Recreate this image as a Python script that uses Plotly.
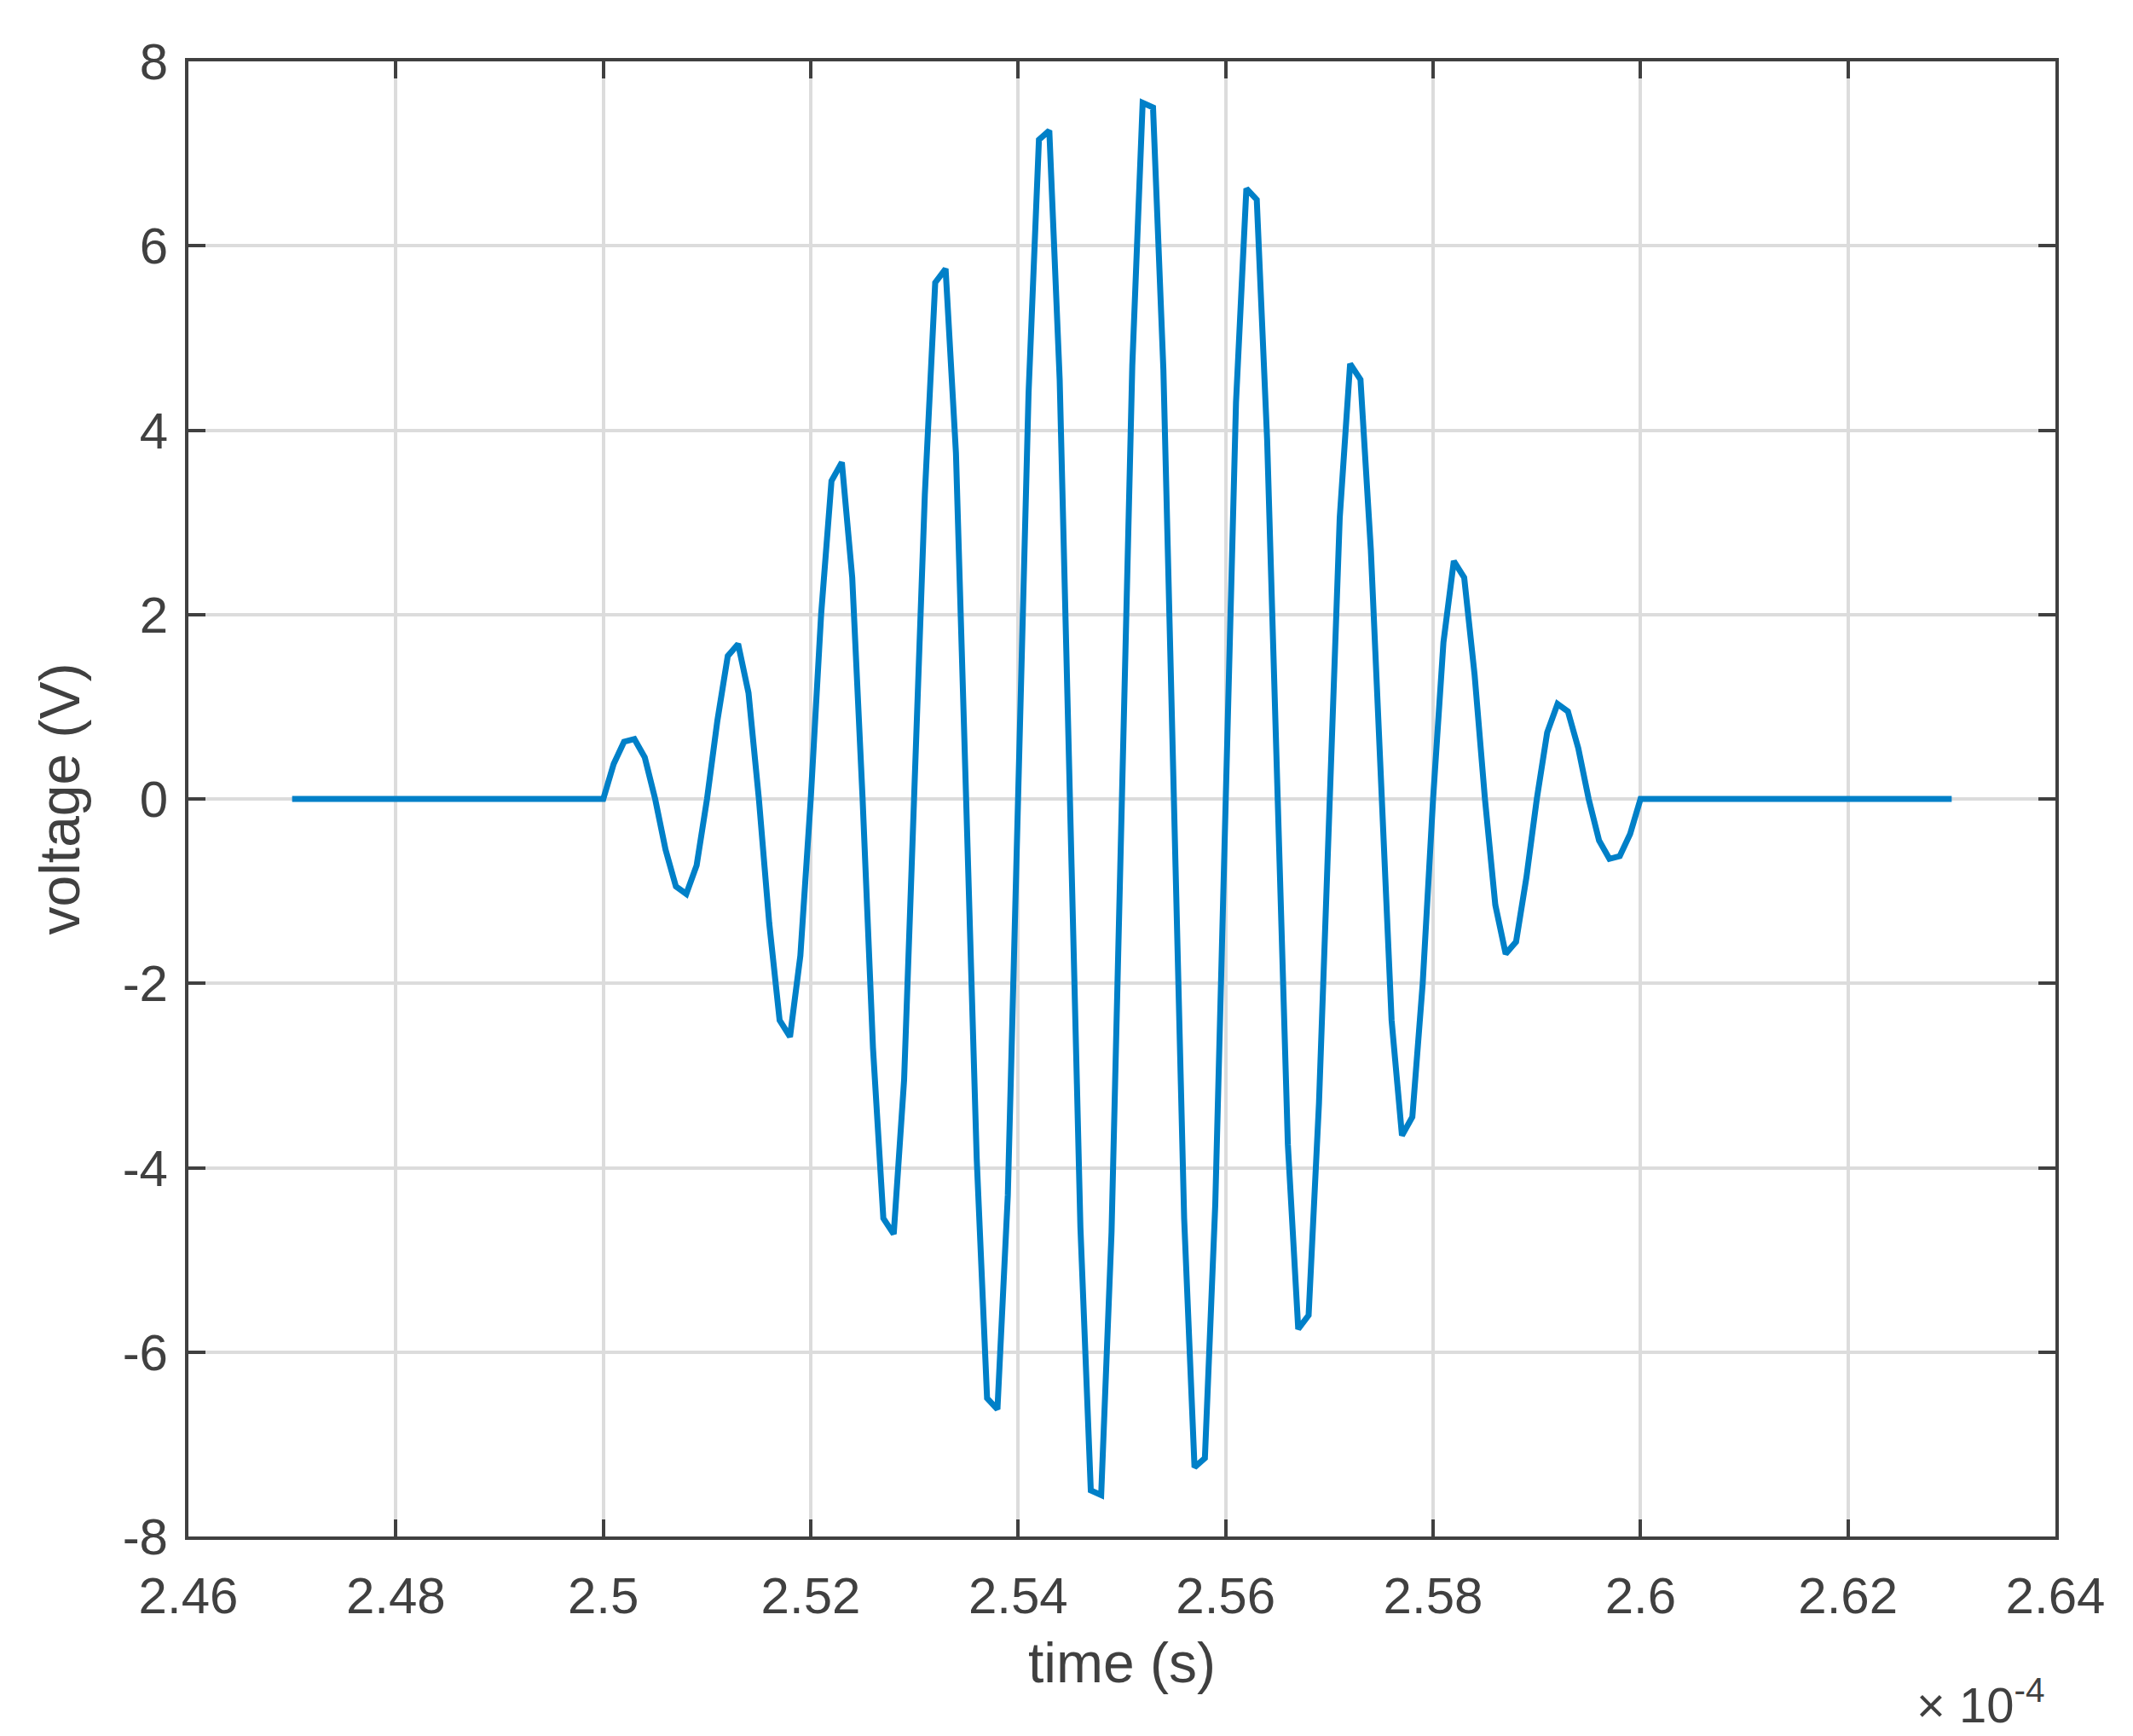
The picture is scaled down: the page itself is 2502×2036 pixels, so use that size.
import numpy as np
import plotly.graph_objects as go

# burst samples, one every 1e-7 s starting at 2.5e-4 s
burst = [0, 0.38, 0.62, 0.65, 0.45, 0.0, -0.55, -0.95, -1.03, -0.72,
         0.0, 0.85, 1.55, 1.68, 1.15, 0.0, -1.35, -2.4, -2.58, -1.7,
         0.0, 2.0, 3.45, 3.65, 2.4, 0.0, -2.7, -4.55, -4.72, -3.05,
         0.0, 3.3, 5.6, 5.75, 3.75, 0.0, -3.9, -6.5, -6.62, -4.3,
         0.0, 4.4, 7.15, 7.25, 4.55, 0.0, -4.65, -7.5, -7.55, -4.7,
         0.0, 4.7, 7.55, 7.5, 4.65, 0.0, -4.55, -7.25, -7.15, -4.4,
         0.0, 4.3, 6.62, 6.5, 3.9, 0.0, -3.75, -5.75, -5.6, -3.3,
         0.0, 3.05, 4.72, 4.55, 2.7, 0.0, -2.4, -3.65, -3.45, -2.0,
         0.0, 1.7, 2.58, 2.4, 1.35, 0.0, -1.15, -1.68, -1.55, -0.85,
         0.0, 0.72, 1.03, 0.95, 0.55, 0.0, -0.45, -0.65, -0.62, -0.38, 0.0]
t_start, t_end = 2.47, 2.63          # x 1e-4 s
t_burst = 2.5 + 0.001 * np.arange(len(burst))

t = np.concatenate([[t_start], t_burst, [t_end]])
v = np.concatenate([[0], burst, [0]])

xticks = [2.46, 2.48, 2.5, 2.52, 2.54, 2.56, 2.58, 2.6, 2.62, 2.64]
xlabels = ["2.46", "2.48", "2.5", "2.52", "2.54", "2.56", "2.58", "2.6", "2.62", "2.64"]
yticks = list(range(-8, 9, 2))
ylabels = [str(y) for y in yticks]

axcol = "#404040"
fig = go.Figure(go.Scatter(x=t, y=v, mode="lines",
                           line=dict(color="#0080C8", width=7)))
axis = dict(showline=True, linecolor=axcol, linewidth=4, mirror="ticks",
            ticks="inside", ticklen=20, tickwidth=4, tickcolor=axcol,
            showgrid=True, gridcolor="#DCDCDC", gridwidth=4, zeroline=False,
            tickfont=dict(size=60, color=axcol))
fig.update_xaxes(axis, range=[2.46, 2.64], tickvals=xticks, ticktext=xlabels,
                 ticklabelstandoff=14,
                 title=dict(text="time (s)", font=dict(size=66, color=axcol), standoff=24))
fig.update_yaxes(axis, range=[-8, 8], tickvals=yticks, ticktext=ylabels,
                 ticklabelstandoff=8,
                 title=dict(text="voltage (V)", font=dict(size=66, color=axcol), standoff=30))
fig.add_annotation(x=1, y=0, xref="paper", yref="paper", yshift=-155, xshift=-10,
                   xanchor="right", yanchor="top", showarrow=False,
                   text="× 10<sup>-4</sup>", font=dict(size=58, color=axcol))
fig.update_layout(width=2502, height=2036, plot_bgcolor="white", paper_bgcolor="white",
                  font=dict(family="Liberation Sans, Arial"), showlegend=False,
                  margin=dict(l=213, r=99, t=64, b=242))
fig.write_html("out.html")
